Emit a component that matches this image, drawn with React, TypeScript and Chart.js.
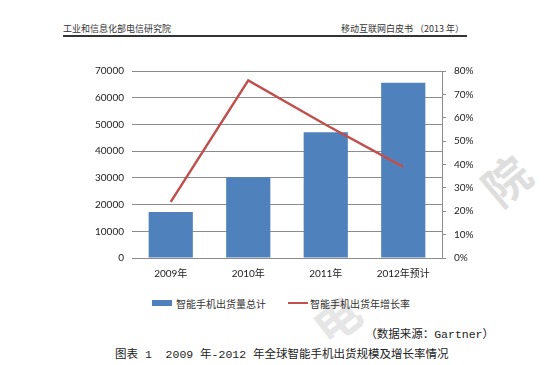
import React, { useEffect, useRef } from "react";
import { Chart, registerables } from "chart.js";

Chart.register(...registerables);

const categories = ["2009年", "2010年", "2011年", "2012年预计"];
const shipments = [17200, 30200, 47100, 65600];
const growthRate = [24, 76, 57, 39];
const leftTicks = [0, 10000, 20000, 30000, 40000, 50000, 60000, 70000];
const barLabel = "智能手机出货量总计";
const lineLabel = "智能手机出货年增长率";
const BLUE = "#4F81BD";
const RED = "#C0504D";
const GRID = "#8c8c8c";
const TICK_FONT = { family: "Lato, 'Noto Sans CJK SC', sans-serif", size: 10 };

export default function App() {
  const ref = useRef<HTMLCanvasElement | null>(null);

  useEffect(() => {
    if (!ref.current) return;
    const chart = new Chart(ref.current, {
      type: "bar",
      data: {
        labels: categories,
        datasets: [
          {
            type: "line",
            label: lineLabel,
            data: growthRate,
            yAxisID: "y1",
            borderColor: RED,
            backgroundColor: RED,
            borderWidth: 2.5,
            pointRadius: 0,
            tension: 0,
            order: 0,
          },
          {
            type: "bar",
            label: barLabel,
            data: shipments,
            yAxisID: "y",
            backgroundColor: BLUE,
            borderWidth: 0,
            barPercentage: 0.57,
            categoryPercentage: 1,
            order: 1,
          },
        ],
      },
      options: {
        responsive: false,
        animation: false,
        layout: { padding: { left: 82, right: 70, top: 71, bottom: 12 } },
        plugins: { legend: { display: false }, tooltip: { enabled: false } },
        scales: {
          x: {
            grid: { display: false, drawTicks: false },
            border: { display: false },
            ticks: { font: TICK_FONT, color: "#222", padding: 10 },
            afterFit: (s: any) => {
              s.height = 20;
            },
          },
          y: {
            position: "left",
            min: 0,
            max: 70000,
            afterBuildTicks: (s: any) => {
              s.ticks = leftTicks.map((v) => ({ value: v }));
            },
            grid: { color: GRID, lineWidth: 1, drawTicks: false },
            border: { display: false },
            ticks: { font: TICK_FONT, color: "#222", padding: 8, callback: (v: any) => String(v) },
            afterFit: (s: any) => {
              s.width = 50;
            },
          },
          y1: {
            position: "right",
            min: 0,
            max: 80,
            ticks: {
              stepSize: 10,
              font: TICK_FONT,
              color: "#222",
              padding: 8,
              callback: (v: any) => v + "%",
            },
            grid: { drawOnChartArea: false, drawTicks: true, tickLength: 4, color: GRID },
            border: { display: true, color: GRID, width: 1 },
            afterFit: (s: any) => {
              s.width = 48;
            },
          },
        },
      },
    });
    return () => chart.destroy();
  }, []);

  const cjk = "'Noto Sans CJK SC', sans-serif";
  const serifCjk = "'Liberation Mono', 'Noto Sans CJK SC', monospace";

  return (
    <div style={{ position: "absolute", left: 0, top: 0, width: 560, height: 365, background: "#fff", overflow: "hidden" }}>
      <div style={{ position: "absolute", left: 312, top: 294, fontSize: 46, fontWeight: 700, color: "#e6e6e6", fontFamily: cjk, transform: "rotate(-38deg)", lineHeight: 1 }}>电</div>
      <div style={{ position: "absolute", left: 482, top: 156, fontSize: 46, fontWeight: 700, color: "#dedede", fontFamily: cjk, transform: "rotate(-40deg)", lineHeight: 1 }}>院</div>
      <div style={{ position: "absolute", left: 63, top: 23, fontSize: 9, color: "#333", fontFamily: cjk, lineHeight: "12px" }}>工业和信息化部电信研究院</div>
      <div style={{ position: "absolute", right: 560 - 464, top: 23, fontSize: 9, color: "#333", fontFamily: cjk, lineHeight: "12px", whiteSpace: "pre" }}>移动互联网白皮书 （2013 年）</div>
      <div style={{ position: "absolute", left: 63, top: 35, width: 404, height: 1.5, background: "#333" }} />
      <canvas ref={ref} width={560} height={290} style={{ position: "absolute", left: 0, top: 0, width: 560, height: 290 }} />
      <div style={{ position: "absolute", left: 152, top: 296, height: 14, display: "flex", alignItems: "center", fontSize: 10, color: "#333", fontFamily: cjk, whiteSpace: "nowrap" }}>
        <span style={{ display: "inline-block", width: 20, height: 6, background: BLUE, marginRight: 4 }} />
        <span>{barLabel}</span>
        <span style={{ display: "inline-block", width: 20, height: 2.5, background: RED, marginLeft: 22, marginRight: 2 }} />
        <span>{lineLabel}</span>
      </div>
      <div style={{ position: "absolute", right: 560 - 494, top: 327, fontSize: 11.5, color: "#222", fontFamily: serifCjk, whiteSpace: "pre", lineHeight: "16px" }}>（数据来源：Gartner）</div>
      <div style={{ position: "absolute", left: 115, top: 347, fontSize: 11.5, color: "#222", fontFamily: serifCjk, whiteSpace: "pre", lineHeight: "16px" }}>图表 1  2009 年-2012 年全球智能手机出货规模及增长率情况</div>
    </div>
  );
}
